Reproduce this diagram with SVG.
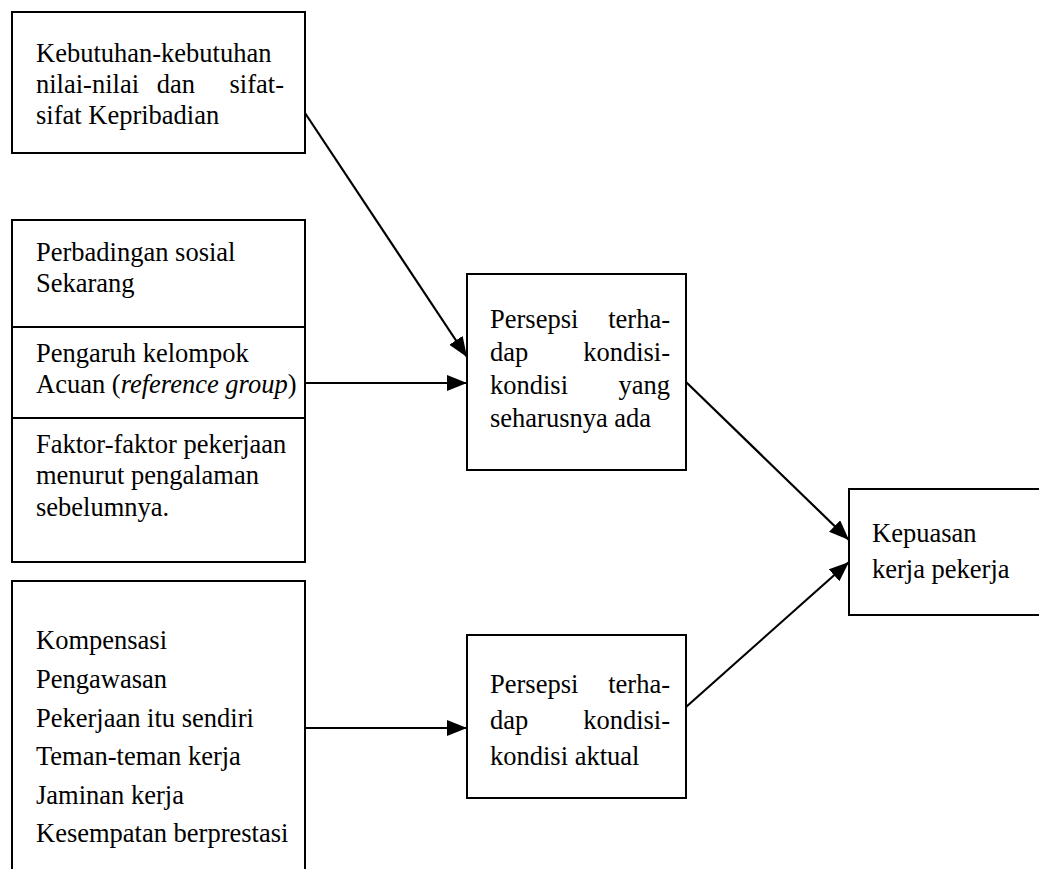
<svg xmlns="http://www.w3.org/2000/svg" width="1039" height="869" viewBox="0 0 1039 869">
  <style>
    .box { fill: #ffffff; stroke: #000000; stroke-width: 2; }
    .div { stroke: #000000; stroke-width: 2; }
    text { font-size: 26.5px; fill: #000000; }
    .end { text-anchor: end; }
    .mid { text-anchor: middle; }
    .edge { stroke: #000000; stroke-width: 2.2; fill: none; marker-end: url(#head); }
  </style>
  <defs>
    <marker id="head" markerUnits="userSpaceOnUse" markerWidth="22" markerHeight="18" refX="20" refY="8" orient="auto">
      <path d="M0,0 L20,8 L0,16 Z" fill="#000000"/>
    </marker>
  </defs>

  <rect x="0" y="0" width="1039" height="869" fill="#ffffff"/>

  <g font-family="Liberation Serif, Times New Roman, serif">
  <!-- personal needs, values and traits -->
  <g id="needs">
    <rect class="box" x="12" y="12" width="293" height="141"/>
    <text x="36" y="62">Kebutuhan-kebutuhan</text>
    <text x="36" y="93">nilai-nilai</text>
    <text class="mid" x="176" y="93">dan</text>
    <text class="end" x="284" y="93">sifat-</text>
    <text x="36" y="124">sifat Kepribadian</text>
  </g>

  <!-- social comparison / reference group / past experience -->
  <g id="comparison">
    <rect class="box" x="12" y="220" width="293" height="342"/>
    <line class="div" x1="12" y1="327" x2="305" y2="327"/>
    <line class="div" x1="12" y1="418" x2="305" y2="418"/>
    <text x="36" y="261">Perbadingan sosial</text>
    <text x="36" y="292">Sekarang</text>
    <text x="36" y="362">Pengaruh kelompok</text>
    <text x="36" y="393">Acuan (<tspan font-style="italic">reference group</tspan>)</text>
    <text x="36" y="453">Faktor-faktor pekerjaan</text>
    <text x="36" y="484">menurut pengalaman</text>
    <text x="36" y="516">sebelumnya.</text>
  </g>

  <!-- job factors -->
  <g id="factors">
    <rect class="box" x="12" y="581" width="293" height="300"/>
    <text x="36" y="649">Kompensasi</text>
    <text x="36" y="688">Pengawasan</text>
    <text x="36" y="727">Pekerjaan itu sendiri</text>
    <text x="36" y="765">Teman-teman kerja</text>
    <text x="36" y="804">Jaminan kerja</text>
    <text x="36" y="842">Kesempatan berprestasi</text>
  </g>

  <!-- perceived expected conditions -->
  <g id="expected">
    <rect class="box" x="467" y="274" width="219" height="196"/>
    <text x="490" y="328">Persepsi</text>
    <text class="end" x="670" y="328">terha-</text>
    <text x="490" y="361">dap</text>
    <text class="end" x="670" y="361">kondisi-</text>
    <text x="490" y="394">kondisi</text>
    <text class="end" x="670" y="394">yang</text>
    <text x="490" y="427">seharusnya ada</text>
  </g>

  <!-- perceived actual conditions -->
  <g id="actual">
    <rect class="box" x="467" y="635" width="219" height="163"/>
    <text x="490" y="693">Persepsi</text>
    <text class="end" x="670" y="693">terha-</text>
    <text x="490" y="729">dap</text>
    <text class="end" x="670" y="729">kondisi-</text>
    <text x="490" y="765">kondisi aktual</text>
  </g>

  <!-- job satisfaction -->
  <g id="satisfaction">
    <rect class="box" x="849" y="489" width="200" height="126"/>
    <text x="872" y="542">Kepuasan</text>
    <text x="872" y="578">kerja pekerja</text>
  </g>
  </g>

  <g id="connectors">
    <line class="edge" x1="305" y1="113" x2="467" y2="357"/>
    <line class="edge" x1="305" y1="383" x2="467" y2="383"/>
    <line class="edge" x1="305" y1="728" x2="467" y2="728"/>
    <line class="edge" x1="686" y1="382" x2="849" y2="540"/>
    <line class="edge" x1="686" y1="707" x2="849" y2="562"/>
  </g>
</svg>
